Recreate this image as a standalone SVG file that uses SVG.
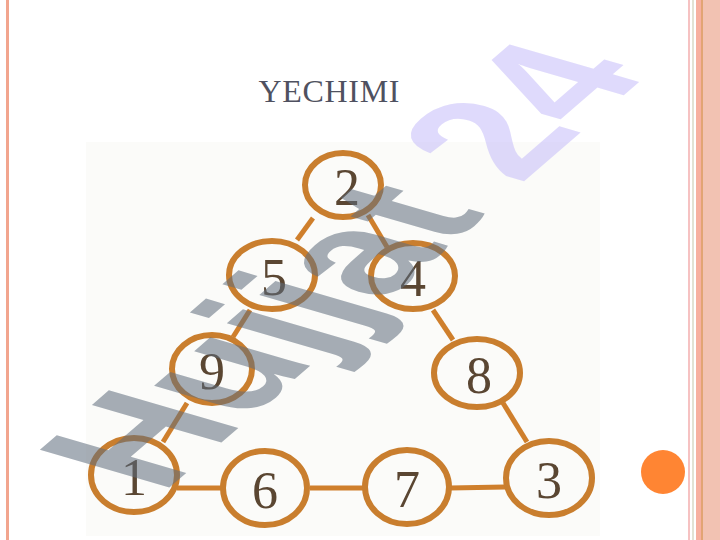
<svg xmlns="http://www.w3.org/2000/svg" width="720" height="540" viewBox="0 0 720 540">
<style>
.node ellipse{fill:none;stroke:#c97e2e;stroke-width:6}
.node text{font-family:"Liberation Serif",serif;font-size:52px;fill:#5a4632;text-anchor:middle}
.conn line{stroke:#cf7f2c;stroke-width:5}
.wm{font-family:"Liberation Sans",Arial,sans-serif;font-weight:bold;font-size:155px}
</style>
<rect width="720" height="540" fill="#ffffff"/>
<rect x="6" y="0" width="3" height="540" fill="#f2a58e"/>
<rect x="688" y="0" width="2" height="540" fill="#f6c2c2"/>
<rect x="692" y="0" width="2" height="540" fill="#e2e2d4"/>
<rect x="696" y="0" width="24" height="540" fill="#f2c2b2"/>
<rect x="696" y="0" width="5" height="540" fill="#f7b0a0"/>
<rect x="701" y="0" width="2" height="540" fill="#e2a474"/>
<text x="329" y="102" font-family="Liberation Serif,serif" font-size="32" fill="#4f5160" text-anchor="middle" textLength="141">YECHIMI</text>
<rect x="86" y="142" width="514" height="394" fill="#fbfbf9"/>
<g class="conn">
<line x1="313" y1="218" x2="297" y2="240"/>
<line x1="368" y1="215" x2="387" y2="247"/>
<line x1="250" y1="310" x2="233" y2="337"/>
<line x1="433" y1="310" x2="453" y2="340"/>
<line x1="187" y1="403" x2="163" y2="442"/>
<line x1="503" y1="403" x2="527" y2="442"/>
<line x1="177" y1="488" x2="222" y2="488"/>
<line x1="310" y1="488" x2="363" y2="488"/>
<line x1="450" y1="488" x2="505" y2="487"/>
</g>
<g id="n2" class="node"><ellipse cx="343" cy="185" rx="38" ry="32"/><text x="347" y="205">2</text></g>
<g id="n5" class="node"><ellipse cx="272" cy="275" rx="43" ry="34"/><text x="274" y="295">5</text></g>
<g id="n4" class="node"><ellipse cx="413" cy="276" rx="42" ry="33"/><text x="413" y="296">4</text></g>
<g id="n9" class="node"><ellipse cx="212" cy="369" rx="40" ry="34"/><text x="212" y="389">9</text></g>
<g id="n8" class="node"><ellipse cx="477" cy="373" rx="43" ry="34"/><text x="479" y="393">8</text></g>
<g id="n1" class="node"><ellipse cx="134" cy="475" rx="43" ry="37"/><text x="134" y="495">1</text></g>
<g id="n6" class="node"><ellipse cx="265" cy="488" rx="42" ry="37"/><text x="265" y="508">6</text></g>
<g id="n7" class="node"><ellipse cx="407" cy="487" rx="42" ry="37"/><text x="407" y="507">7</text></g>
<g id="n3" class="node"><ellipse cx="549" cy="478" rx="43" ry="37"/><text x="549" y="498">3</text></g>
<g id="watermark" transform="translate(161.6,494.2) rotate(-40.8) skewX(33) scale(1,1.06)" opacity="0.55">
<text class="wm" x="0" y="0"><tspan fill="#5f6d7d">Hujjat</tspan><tspan fill="#c6bdfa"> 24</tspan></text>
</g>
<circle cx="663" cy="472" r="22" fill="#ff8533"/>
</svg>
